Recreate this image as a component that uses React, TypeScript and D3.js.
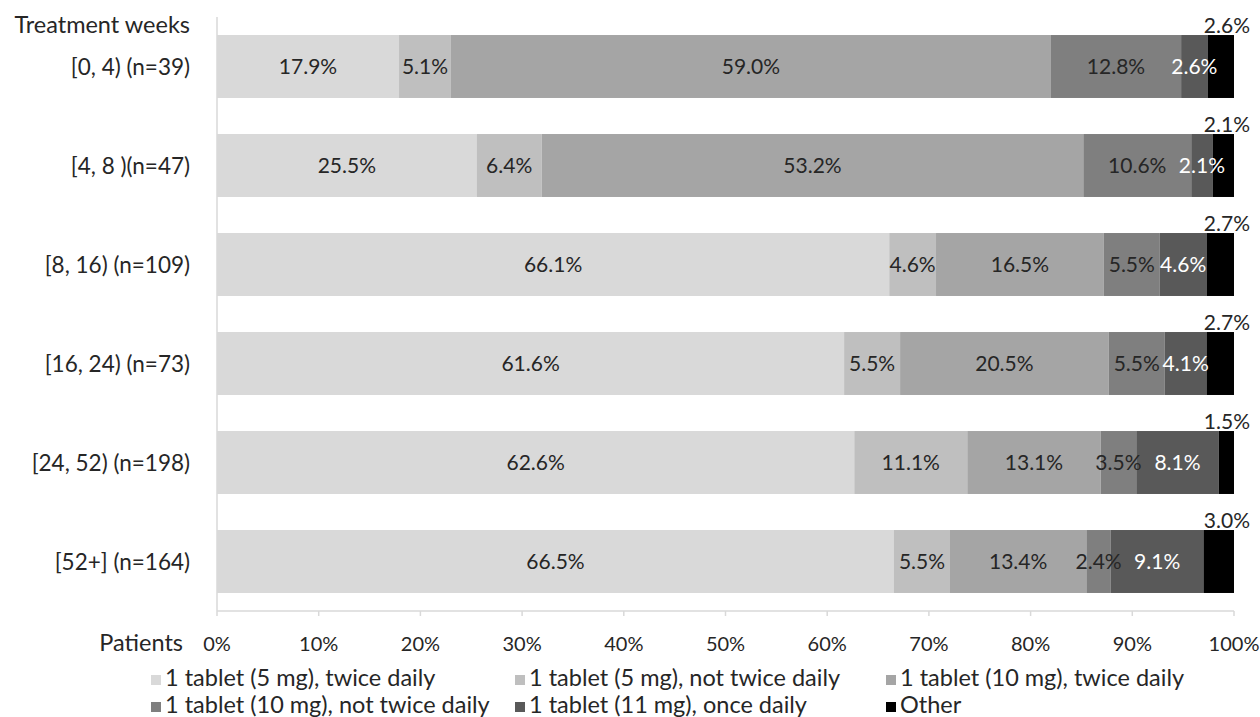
import React from "react";
import * as d3 from "d3";

// Treatment week groups (rows of the chart)
const categories = [
  "[0, 4) (n=39)",
  "[4, 8 )(n=47)",
  "[8, 16) (n=109)",
  "[16, 24) (n=73)",
  "[24, 52) (n=198)",
  "[52+] (n=164)",
];

// Dosing pattern series, percent of patients per row
const seriesNames = [
  "1 tablet (5 mg), twice daily",
  "1 tablet (5 mg), not twice daily",
  "1 tablet (10 mg), twice daily",
  "1 tablet (10 mg), not twice daily",
  "1 tablet (11 mg), once daily",
  "Other",
];
const tablet5Twice = [17.9, 25.5, 66.1, 61.6, 62.6, 66.5];
const tablet5NotTwice = [5.1, 6.4, 4.6, 5.5, 11.1, 5.5];
const tablet10Twice = [59.0, 53.2, 16.5, 20.5, 13.1, 13.4];
const tablet10NotTwice = [12.8, 10.6, 5.5, 5.5, 3.5, 2.4];
const tablet11Once = [2.6, 2.1, 4.6, 4.1, 8.1, 9.1];
const other = [2.6, 2.1, 2.7, 2.7, 1.5, 3.0];

const xTicks = [0, 10, 20, 30, 40, 50, 60, 70, 80, 90, 100];

const seriesValues = [tablet5Twice, tablet5NotTwice, tablet10Twice, tablet10NotTwice, tablet11Once, other];
const fills = ["#d9d9d9", "#bfbfbf", "#a5a5a5", "#7f7f7f", "#595959", "#000000"];
const labelFills = ["#262626", "#262626", "#262626", "#262626", "#ffffff", "#262626"];

const W = 1260;
const H = 717;
const FONT = "Lato, 'Noto Sans', sans-serif";
const TEXT_FS = 23.5; // words
const VALUE_FS = 21; // data labels
const TICK_FS = 20; // axis percentages
const INK = "#262626";

export default function App() {
  const keys = seriesNames.map((_, i) => `s${i}`);
  const rows = categories.map((c, r) => {
    const o: Record<string, any> = { category: c };
    keys.forEach((k, i) => (o[k] = seriesValues[i][r]));
    return o;
  });

  const stacked = d3.stack<any>().keys(keys).offset(d3.stackOffsetExpand)(rows);

  const x = d3.scaleLinear().domain([0, 1]).range([217, 1234]);
  const y = d3
    .scaleBand<string>()
    .domain(categories)
    .range([17, 611])
    .paddingInner(0.364)
    .paddingOuter(0.182);
  const bw = y.bandwidth();
  const axisY = 611;

  const legendCols = [151, 515, 886];
  const legendRows = [686, 713];

  return (
    <div style={{ position: "absolute", left: 0, top: 0 }}>
      <svg width={W} height={H} style={{ display: "block", fontFamily: FONT }}>
        <rect width={W} height={H} fill="#ffffff" />

        {/* stacked segments */}
        {stacked.map((layer, si) =>
          layer.map((d, ri) => (
            <rect
              key={`${si}-${ri}`}
              x={x(d[0])}
              y={y(categories[ri])!}
              width={Math.max(0, x(d[1]) - x(d[0]))}
              height={bw}
              fill={fills[si]}
            />
          ))
        )}

        {/* segment value labels */}
        {stacked.map((layer, si) =>
          layer.map((d, ri) => {
            const v = seriesValues[si][ri];
            const top = y(categories[ri])!;
            if (si === stacked.length - 1) {
              return (
                <text
                  key={`l-${si}-${ri}`}
                  x={x(1) + 16}
                  y={top - 2}
                  textAnchor="end"
                  fontSize={VALUE_FS}
                  fill={labelFills[si]}
                >
                  {v.toFixed(1)}%
                </text>
              );
            }
            return (
              <text
                key={`l-${si}-${ri}`}
                x={(x(d[0]) + x(d[1])) / 2}
                y={top + bw / 2}
                dy="0.36em"
                textAnchor="middle"
                fontSize={VALUE_FS}
                fill={labelFills[si]}
              >
                {v.toFixed(1)}%
              </text>
            );
          })
        )}

        {/* value axis */}
        <line x1={x(0)} x2={x(0)} y1={17} y2={axisY} stroke="#d9d9d9" strokeWidth={1.5} />
        <line x1={x(0)} x2={x(1)} y1={axisY} y2={axisY} stroke="#d9d9d9" strokeWidth={1.5} />
        {xTicks.map((t) => (
          <g key={t}>
            <line x1={x(t / 100)} x2={x(t / 100)} y1={axisY} y2={axisY + 5} stroke="#d9d9d9" strokeWidth={1.5} />
            <text x={x(t / 100)} y={651} textAnchor="middle" fontSize={TICK_FS} fill={INK}>
              {t}%
            </text>
          </g>
        ))}
        <text x={183} y={651} textAnchor="end" fontSize={TEXT_FS} fill={INK}>
          Patients
        </text>

        {/* category axis */}
        <text x={190} y={33} textAnchor="end" fontSize={TEXT_FS} fill={INK}>
          Treatment weeks
        </text>
        {categories.map((c) => (
          <text
            key={c}
            x={190}
            y={y(c)! + bw / 2}
            dy="0.36em"
            textAnchor="end"
            fontSize={22.5}
            fill={INK}
          >
            {c}
          </text>
        ))}

        {/* legend */}
        {seriesNames.map((name, i) => {
          const cx = legendCols[i % 3];
          const by = legendRows[Math.floor(i / 3)];
          return (
            <g key={name}>
              <rect x={cx} y={by - 11} width={10} height={10} fill={fills[i]} />
              <text x={cx + 14} y={by} fontSize={TEXT_FS} fill={INK}>
                {name}
              </text>
            </g>
          );
        })}
      </svg>
    </div>
  );
}
